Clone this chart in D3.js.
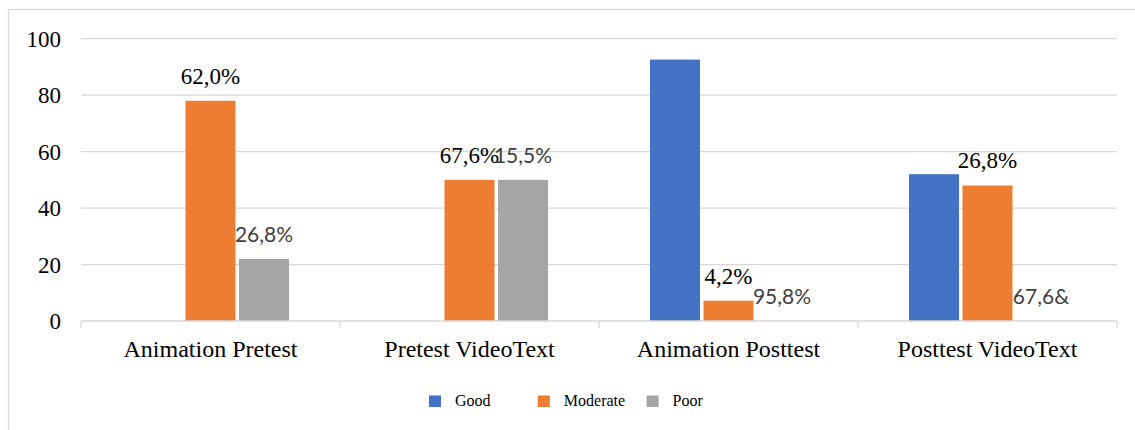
<!DOCTYPE html>
<html>
<head>
<meta charset="utf-8">
<script src="https://cdn.jsdelivr.net/npm/d3@7"></script>
<style>
  html, body { margin: 0; padding: 0; background: #fff; }
  svg { display: block; }
  .serif { font-family: "Liberation Serif", "Times New Roman", serif; }
  .sans { font-family: Lato, "Open Sans", sans-serif; }
</style>
</head>
<body>
<svg id="chart" width="1135" height="430"></svg>
<script>
// Categories and series
const categories = ["Animation Pretest", "Pretest VideoText", "Animation Posttest", "Posttest VideoText"];
const seriesNames = ["Good", "Moderate", "Poor"];
const goodValues = [0, 0, 92.6, 52];
const moderateValues = [78, 50, 7.2, 48];
const poorValues = [22, 50, 0, 0];
// Percentage annotations printed above the Moderate and Poor bars
const moderateLabels = ["62,0%", "67,6%", "4,2%", "26,8%"];
const poorLabels = ["26,8%", "15,5%", "95,8%", "67,6&"];
const yTicks = [0, 20, 40, 60, 80, 100];

const colors = { Good: "#4472C4", Moderate: "#ED7D31", Poor: "#A5A5A5" };
const valuesBySeries = { Good: goodValues, Moderate: moderateValues, Poor: poorValues };

const svg = d3.select("#chart");
const plotLeft = 81, plotRight = 1117, plotTop = 38.7, plotBottom = 321;

// Outer frame
svg.append("rect")
  .attr("x", 8.5).attr("y", 9.5)
  .attr("width", 1140).attr("height", 440)
  .attr("fill", "none").attr("stroke", "#d9d9d9").attr("stroke-width", 1.2);

const y = d3.scaleLinear().domain([0, 100]).range([plotBottom, plotTop]);
const x0 = d3.scaleBand().domain(categories).range([plotLeft, plotRight]).padding(0);
const x1 = d3.scaleBand().domain(seriesNames).range([51, 208]).paddingInner(0.0654).paddingOuter(0);

// Horizontal gridlines
svg.append("g").selectAll("line").data(yTicks.filter(t => t > 0)).join("line")
  .attr("x1", plotLeft).attr("x2", plotRight)
  .attr("y1", d => y(d)).attr("y2", d => y(d))
  .attr("stroke", "#d9d9d9").attr("stroke-width", 1.3);

// Y axis labels
const yAxis = d3.axisLeft(y).tickValues(yTicks).tickSize(0).tickPadding(0);
const yg = svg.append("g").attr("transform", "translate(61,0)").call(yAxis);
yg.select(".domain").remove();
yg.attr("font-family", null).attr("font-size", null);
yg.selectAll("text")
  .attr("class", "serif")
  .style("font-size", "23px").attr("fill", "#000").attr("dy", "0.33em");

// Bars
const rows = categories.map((c, i) => ({ category: c, i }));
const groups = svg.append("g").selectAll("g").data(rows).join("g")
  .attr("transform", d => `translate(${x0(d.category)},0)`);

groups.selectAll("rect")
  .data(d => seriesNames.map(s => ({ series: s, value: valuesBySeries[s][d.i] })))
  .join("rect")
  .attr("x", d => x1(d.series))
  .attr("width", x1.bandwidth())
  .attr("y", d => y(d.value))
  .attr("height", d => y(0) - y(d.value))
  .attr("fill", d => colors[d.series]);

// Category axis: baseline with tick marks between groups
svg.append("line")
  .attr("x1", plotLeft).attr("x2", plotRight).attr("y1", plotBottom).attr("y2", plotBottom)
  .attr("stroke", "#d9d9d9").attr("stroke-width", 1.3);
const boundaries = categories.map(c => x0(c)).concat([x0(categories[categories.length - 1]) + x0.bandwidth()]);
svg.append("g").selectAll("line").data(boundaries).join("line")
  .attr("x1", d => d).attr("x2", d => d)
  .attr("y1", plotBottom).attr("y2", plotBottom + 7)
  .attr("stroke", "#d9d9d9").attr("stroke-width", 1.3);

svg.append("g").selectAll("text").data(categories).join("text")
  .attr("class", "serif")
  .attr("x", d => x0(d) + x0.bandwidth() / 2)
  .attr("y", 357)
  .attr("text-anchor", "middle")
  .style("font-size", "24px").attr("fill", "#000")
  .text(d => d);

// Value annotations
groups.append("text")
  .attr("class", "serif")
  .attr("x", d => x1("Moderate") + x1.bandwidth() / 2)
  .attr("y", d => y(moderateValues[d.i]) - 17)
  .attr("text-anchor", "middle")
  .style("font-size", "23px").attr("fill", "#000")
  .text(d => moderateLabels[d.i]);

groups.append("text")
  .attr("class", "sans")
  .attr("x", d => x1("Poor") + x1.bandwidth() / 2)
  .attr("y", d => y(poorValues[d.i]) - 17)
  .attr("text-anchor", "middle")
  .style("font-size", "21px").attr("fill", "#404040")
  .text(d => poorLabels[d.i]);

// Legend
const legend = svg.append("g").selectAll("g").data(seriesNames).join("g")
  .attr("transform", (d, i) => `translate(${429 + i * 108.8},395.5)`);
legend.append("rect")
  .attr("width", 12).attr("height", 11.5)
  .attr("fill", d => colors[d]);
legend.append("text")
  .attr("class", "serif")
  .attr("x", 26).attr("y", 10.5)
  .style("font-size", "16px").attr("fill", "#000")
  .text(d => d);
</script>
</body>
</html>
